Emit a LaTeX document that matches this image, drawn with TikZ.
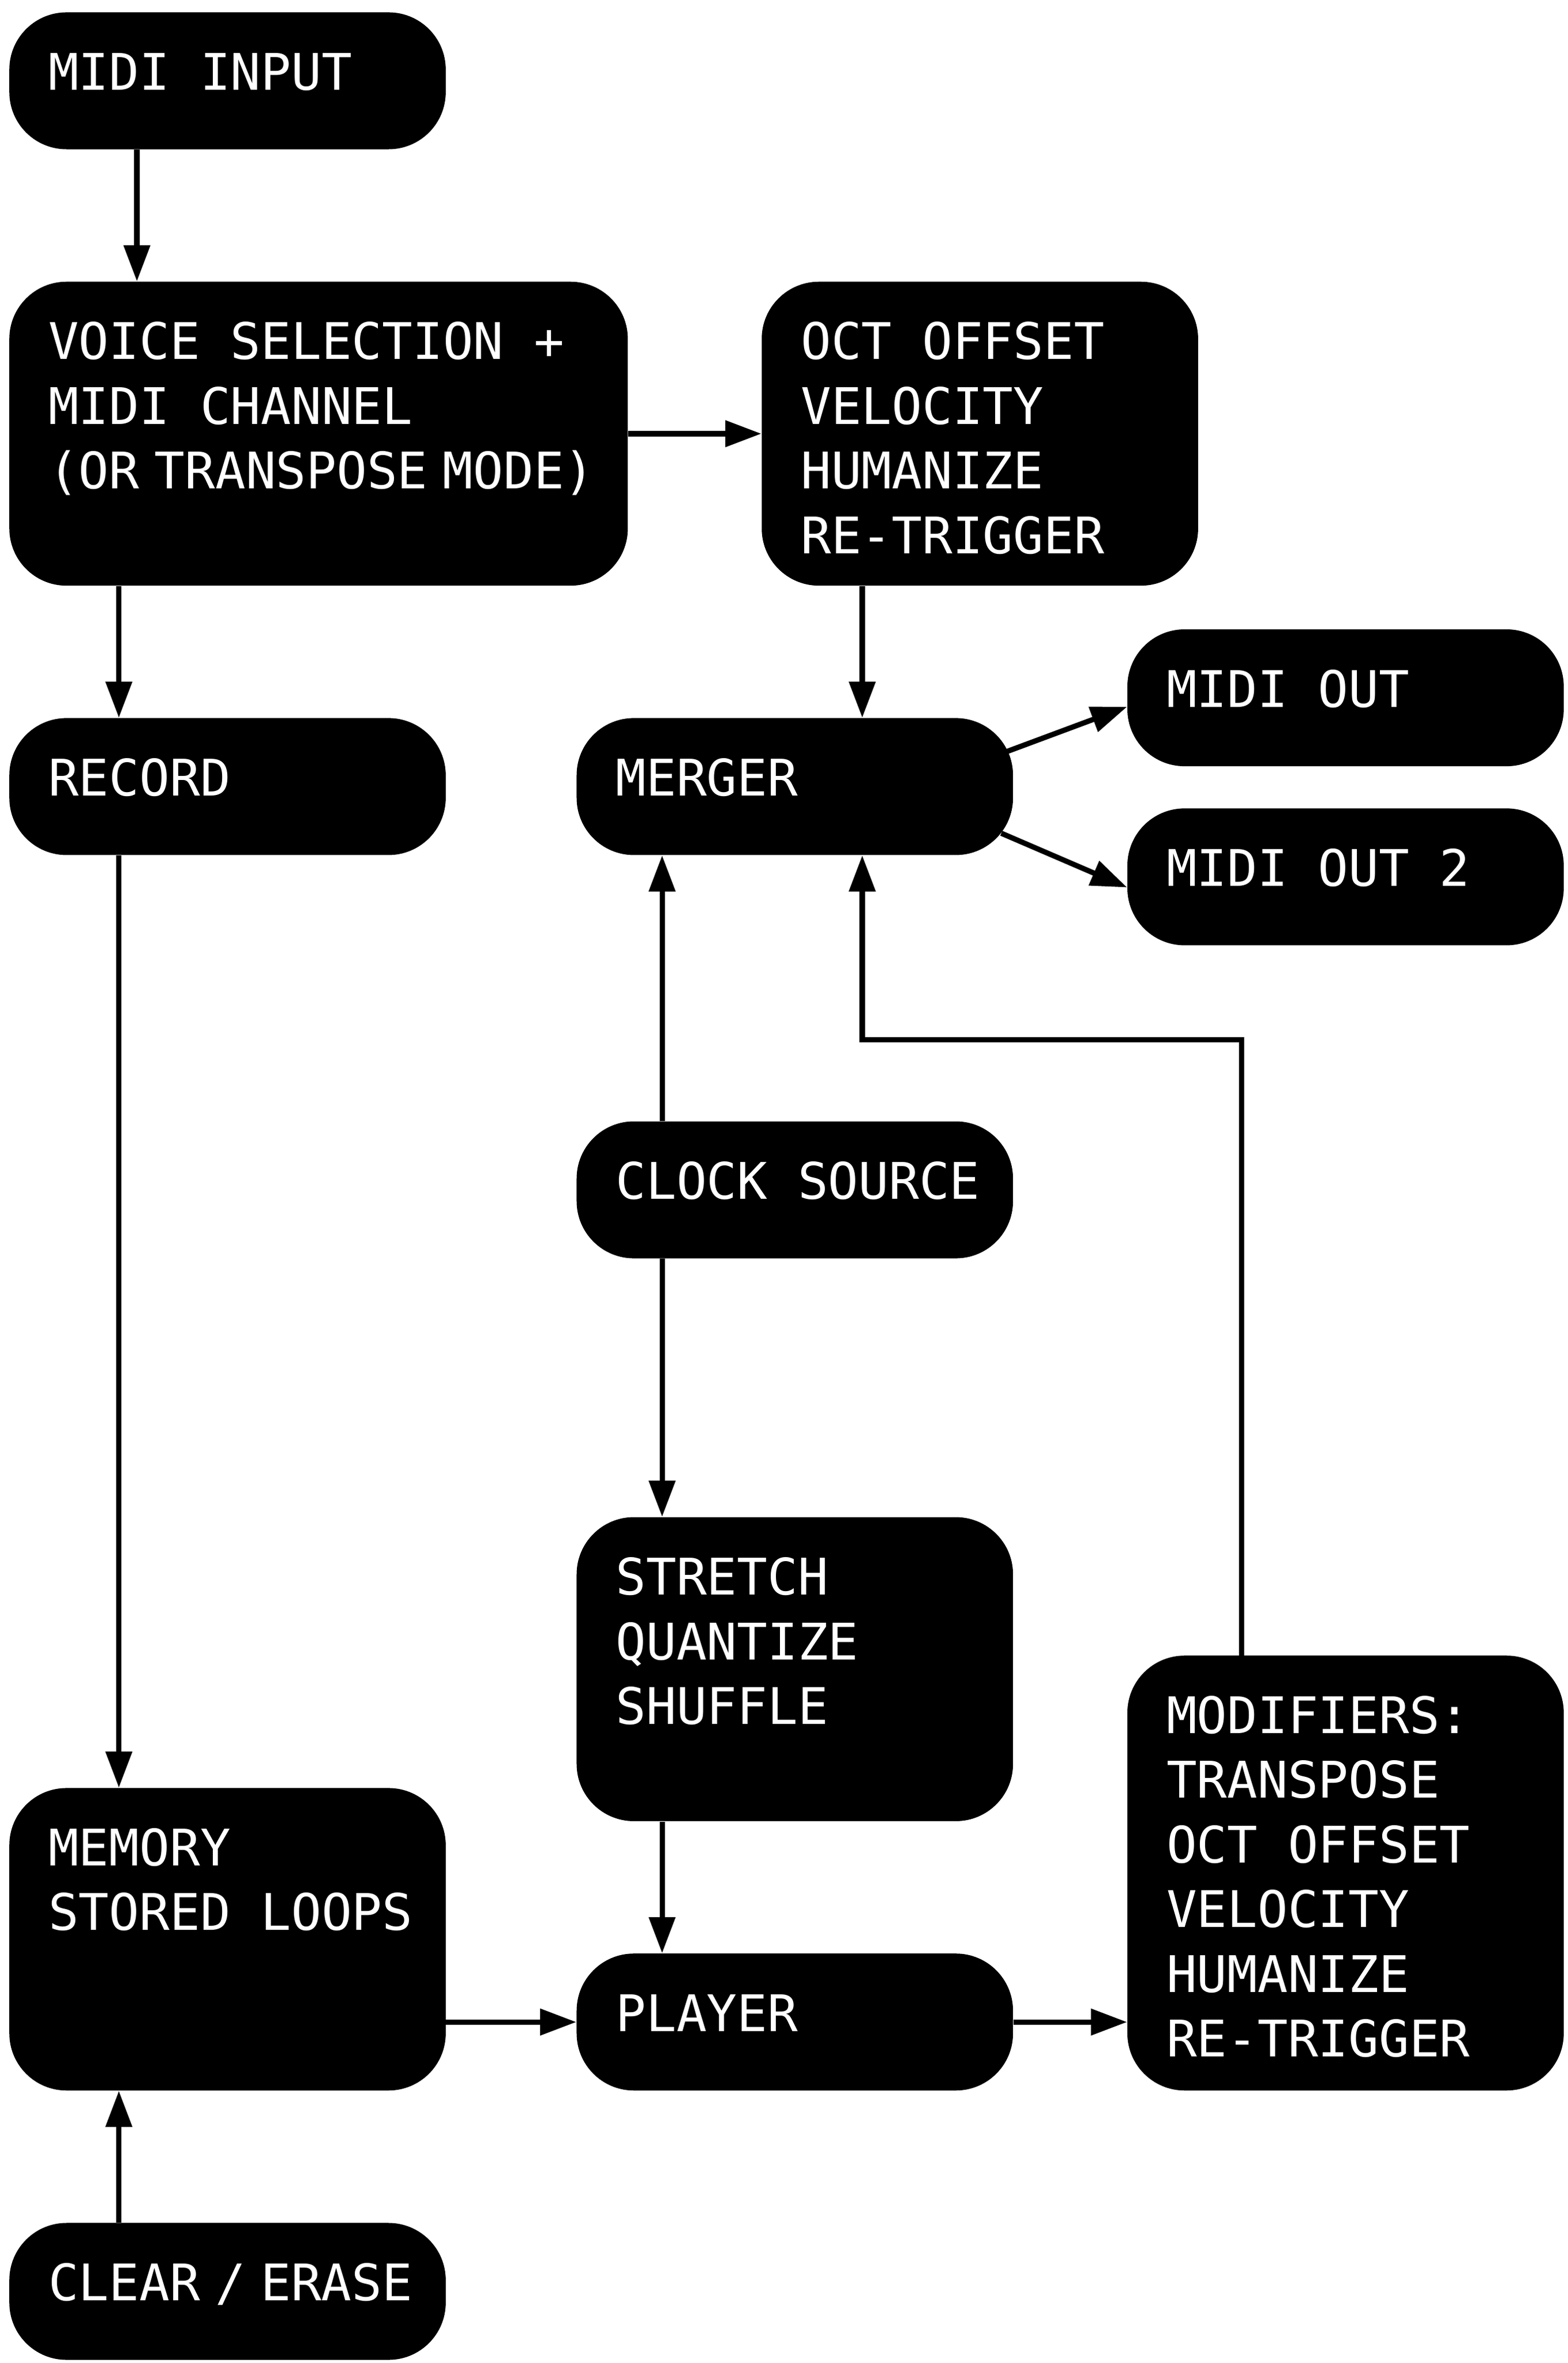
\documentclass[tikz,border=0pt]{standalone}
\usepackage{fontspec}
\usepackage{tikz}
\usetikzlibrary{arrows.meta}
\newfontfamily\boxfont{DejaVu Sans Mono}
\newcommand\narrowsp{\spaceskip=0.3em\relax}

\begin{document}
\begin{tikzpicture}[x=1pt,y=-1pt,
	blk/.style={fill=black,rounded corners=38pt,anchor=north west,inner sep=0pt,minimum width=290pt,minimum height=91pt},
	txt/.style={anchor=north west,inner sep=0pt,align=left,text=white,font=\boxfont\fontsize{33.5}{43}\selectfont},
	arr/.style={line width=3.5pt,-{Triangle[length=24pt,width=17pt]}}]
	\useasboundingbox (0,0) rectangle (1042,1570.3);
	\node[blk] (input)   at (6, 8)      {};
	\node[blk,minimum width=411pt,minimum height=202pt] (voice) at (6, 187) {};
	\node[blk,minimum height=202pt] (oct)     at (506, 187)  {};
	\node[blk] (record)  at (6, 477)    {};
	\node[blk] (merger)  at (383, 477)  {};
	\node[blk] (out1)    at (749, 418)  {};
	\node[blk] (out2)    at (749, 537)  {};
	\node[blk] (clock)   at (383, 745)  {};
	\node[blk,minimum height=202pt] (stretch) at (383, 1008) {};
	\node[blk,minimum height=201pt] (memory)  at (6, 1188)   {};
	\node[blk] (player)  at (383, 1298) {};
	\node[blk,minimum height=289pt] (mods)    at (749, 1100) {};
	\node[blk] (clear)   at (6, 1477)   {};
	% labels
	\node[txt] (input-t)   at ([shift={(26pt,-21.5pt)}]input.north west)   {\strut MIDI INPUT};
	\node[txt] (voice-t)   at ([shift={(26pt,-21.5pt)}]voice.north west)   {\strut VOICE SELECTION +\\MIDI CHANNEL\\{\narrowsp (OR TRANSPOSE MODE)}};
	\node[txt] (oct-t)     at ([shift={(26pt,-21.5pt)}]oct.north west)     {\strut OCT OFFSET\\VELOCITY\\HUMANIZE\\RE-TRIGGER};
	\node[txt] (record-t)  at ([shift={(26pt,-21.5pt)}]record.north west)  {\strut RECORD};
	\node[txt] (merger-t)  at ([shift={(26pt,-21.5pt)}]merger.north west)  {\strut MERGER};
	\node[txt] (out1-t)    at ([shift={(26pt,-21.5pt)}]out1.north west)    {\strut MIDI OUT};
	\node[txt] (out2-t)    at ([shift={(26pt,-21.5pt)}]out2.north west)    {\strut MIDI OUT 2};
	\node[txt] (clock-t)   at ([shift={(26pt,-21.5pt)}]clock.north west)   {\strut CLOCK SOURCE};
	\node[txt] (stretch-t) at ([shift={(26pt,-21.5pt)}]stretch.north west) {\strut STRETCH\\QUANTIZE\\SHUFFLE};
	\node[txt] (memory-t)  at ([shift={(26pt,-21.5pt)}]memory.north west)  {\strut MEMORY\\STORED LOOPS};
	\node[txt] (player-t)  at ([shift={(26pt,-21.5pt)}]player.north west)  {\strut PLAYER};
	\node[txt] (mods-t)    at ([shift={(26pt,-21.5pt)}]mods.north west)    {\strut MODIFIERS:\\TRANSPOSE\\OCT OFFSET\\VELOCITY\\HUMANIZE\\RE-TRIGGER};
	\node[txt] (clear-t)   at ([shift={(26pt,-21.5pt)}]clear.north west)   {\strut{\narrowsp CLEAR / ERASE}};
	% connectors
	\coordinate (fb) at (573, 691);
	\draw[arr] ([xshift=85pt]input.south west) -- ([xshift=85pt]voice.north west);
	\draw[arr] (voice.east) -- (oct.west);
	\draw[arr] ([xshift=73pt]voice.south west) -- ([xshift=73pt]record.north west);
	\draw[arr] ([xshift=67pt]oct.south west) -- ([xshift=190pt]merger.north west);
	\draw[arr] ([shift={(-5pt,23pt)}]merger.east) -- ([yshift=-6pt]out1.west);
	\draw[arr] ([shift={(-8pt,-31pt)}]merger.east) -- ([yshift=-7pt]out2.west);
	\draw[arr] ([xshift=57pt]clock.north west) -- ([xshift=57pt]merger.south west);
	\draw[arr] ([xshift=57pt]clock.south west) -- ([xshift=57pt]stretch.north west);
	\draw[arr] ([xshift=57pt]stretch.south west) -- ([xshift=57pt]player.north west);
	\draw[arr] ([xshift=73pt]record.south west) -- ([xshift=73pt]memory.north west);
	\draw[arr] (memory.east |- player.west) -- (player.west);
	\draw[arr] (player.east) -- (player.east -| mods.west);
	\draw[arr] ([xshift=73pt]clear.north west) -- ([xshift=73pt]memory.south west);
	\draw[arr] ([xshift=76pt]mods.north west) |- (fb) -- (fb |- merger.south);
\end{tikzpicture}
\end{document}
